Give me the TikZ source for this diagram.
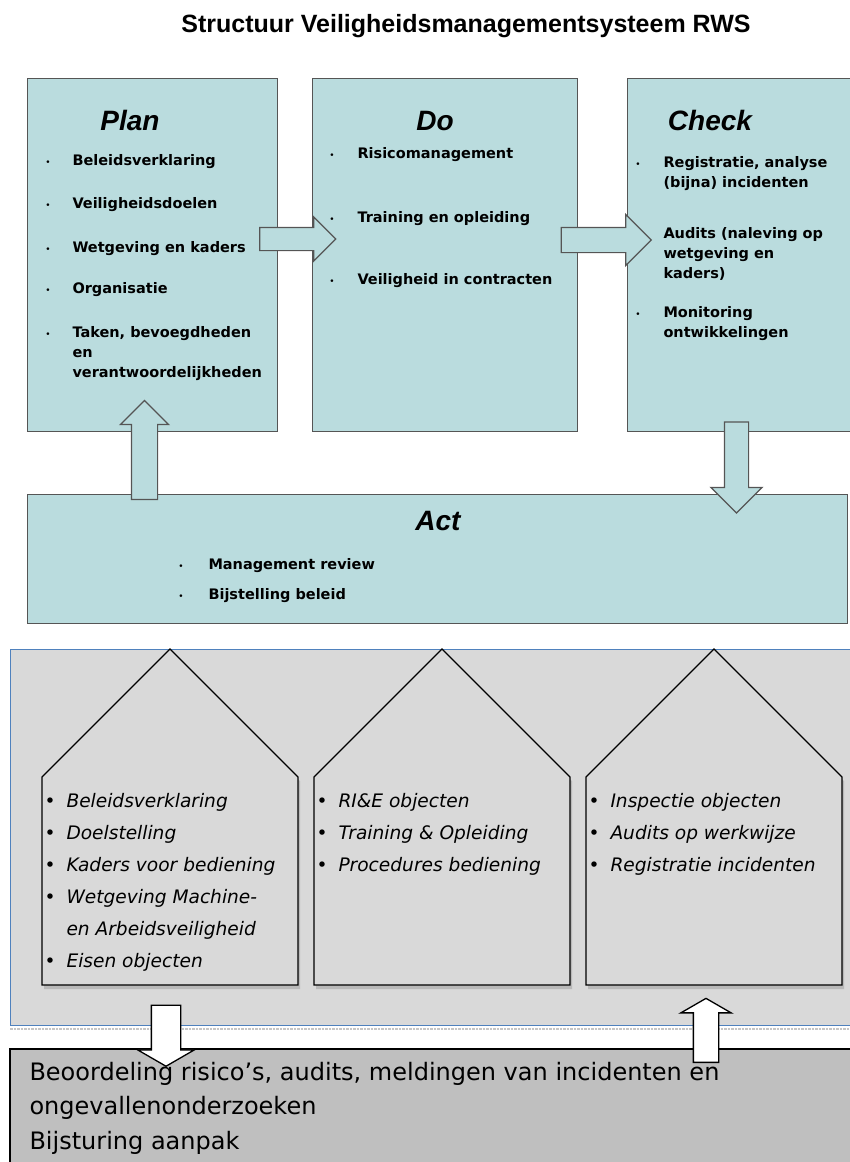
\documentclass[tikz,border=0pt]{standalone}
\usepackage{fontspec}
\setmainfont{DejaVu Sans}
\newfontfamily\arialfont{Liberation Sans}
\usetikzlibrary{shapes.arrows}

\definecolor{pdcateal}{RGB}{186,220,222}
\definecolor{boxline}{RGB}{85,85,85}
\definecolor{vmsgray}{RGB}{217,217,217}
\definecolor{basegray}{RGB}{191,191,191}
\definecolor{frameblue}{RGB}{79,129,189}

\tikzset{
every picture/.style={
line width=1pt
}}

\begin{document}
\begin{tikzpicture}[x=1pt, y=-1pt,
pdcabox/.style = {draw=boxline, fill=pdcateal, line width=1.4pt, inner sep=0pt, anchor=north west},
pdcatitle/.style = {anchor=base, inner sep=0pt, font=\arialfont\bfseries\itshape\fontsize{28}{30}\selectfont},
item/.style = {anchor=base west, align=left, inner sep=0pt, font=\bfseries\fontsize{14.5}{20}\selectfont},
itemdot/.style = {anchor=base, inner sep=0pt, font=\fontsize{9}{9}\selectfont},
bigarrow/.style 2 args = {single arrow, draw=boxline, fill=pdcateal, line width=1.2pt,
  inner xsep=0pt, inner ysep=#1, minimum width=0pt, single arrow head extend=#2},
whitearrow/.style 2 args = {single arrow, draw=black, fill=white, line width=1.3pt,
  inner xsep=0pt, inner ysep=#1, minimum width=0pt, single arrow head extend=#2,
  single arrow tip angle=120},
house/.style = {draw=black, fill=vmsgray, line width=1.2pt},
housetext/.style = {anchor=base west, inner sep=0pt, font=\itshape\fontsize{18.6}{32}\selectfont},
housedot/.style = {anchor=base, inner sep=0pt, font=\fontsize{18.6}{20}\selectfont}]

\useasboundingbox (0,0) rectangle (849,1162);

\node[anchor=base, font=\arialfont\bfseries\fontsize{25}{30}\selectfont] (titel) at (466,32)
{Structuur Veiligheidsmanagementsysteem RWS};

% PDCA boxes
\node[pdcabox, minimum width=250pt, minimum height=353pt] (plan) at (27,78) {};
\node[pdcabox, minimum width=265pt, minimum height=353pt] (do) at (312,78) {};
\node[pdcabox, minimum width=228pt, minimum height=353pt] (check) at (627,78) {};
\node[pdcabox, minimum width=820pt, minimum height=129pt] (act) at (27,494) {};

\node[pdcatitle] (plantitel) at (130,130) {Plan};
\node[pdcatitle] (dotitel) at (435,130) {Do};
\node[pdcatitle] (checktitel) at (710,130) {Check};
\node[pdcatitle] (acttitel) at (438,530) {Act};

% y of the bullet / y of the last text line
\foreach \y/\yl/\txt [count=\i] in {165/165/Beleidsverklaring, 208/208/Veiligheidsdoelen,
  252/252/Wetgeving en kaders, 293/293/Organisatie,
  337/377/{Taken, bevoegdheden\\en\\verantwoordelijkheden}}
{
\node[itemdot] (plandot\i) at (48,\y) {•};
\node[item] (plan\i) at (72,\yl) {\txt};
}

\foreach \y/\txt [count=\i] in {158/Risicomanagement, 222/Training en opleiding,
  284/Veiligheid in contracten}
{
\node[itemdot] (dodot\i) at (332,\y) {•};
\node[item] (do\i) at (357,\y) {\txt};
}

\foreach \y/\yl/\txt [count=\i] in {167/187/{Registratie, analyse\\(bijna) incidenten},
  238/278/{Audits (naleving op\\wetgeving en\\kaders)}, 317/337/{Monitoring\\ontwikkelingen}}
{
\node[itemdot] (checkdot\i) at (638,\y) {•};
\node[item] (check\i) at (663,\yl) {\txt};
}

\foreach \y/\txt [count=\i] in {569/Management review, 599/Bijstelling beleid}
{
\node[itemdot] (actdot\i) at (181,\y) {•};
\node[item] (act\i) at (208,\y) {\txt};
}

\node[bigarrow={11pt}{10.5pt}, minimum height=76pt] (plando) at (292,239) {};
\node[bigarrow={12pt}{13pt}, minimum height=90pt] (docheck) at (600,240) {};
\node[bigarrow={11.5pt}{13.5pt}, minimum height=91pt, rotate=-90] (checkact) at (736.5,461.5) {};
\node[bigarrow={12.5pt}{11pt}, minimum height=99pt, rotate=90] (actplan) at (144.5,456.5) {};

% objecten: drie huisjes
\draw[draw=frameblue, fill=vmsgray] (10,649) rectangle (860,1025);
\draw[gray!45, densely dotted, line width=2.5pt] (10,1029) -- (849,1029);

\foreach \x in {42,314,586}
{
\fill[gray!55] (\x+2,781) -- (\x+130,653) -- (\x+258,781) -- (\x+258,989) -- (\x+2,989) -- cycle;
\draw[house] (\x,777) -- (\x+128,649) -- (\x+256,777) -- (\x+256,985) -- (\x,985) -- cycle;
}

\foreach \y/\txt [count=\i] in {807/Beleidsverklaring, 839/Doelstelling,
  871/Kaders voor bediening, 903/Wetgeving Machine-, 967/Eisen objecten}
{
\node[housedot] (linksdot\i) at (50,\y) {•};
\node[housetext] (links\i) at (66,\y) {\txt};
}
\node[housetext] (links6) at (66,935) {en Arbeidsveiligheid};

\foreach \y/\txt [count=\i] in {807/RI\&E objecten, 839/Training \& Opleiding,
  871/Procedures bediening}
{
\node[housedot] (middot\i) at (322,\y) {•};
\node[housetext] (mid\i) at (338,\y) {\txt};
}

\foreach \y/\txt [count=\i] in {807/Inspectie objecten, 839/Audits op werkwijze,
  871/Registratie incidenten}
{
\node[housedot] (rechtsdot\i) at (594,\y) {•};
\node[housetext] (rechts\i) at (610,\y) {\txt};
}

% beoordeling en bijsturing
\draw[draw=black, fill=basegray, line width=1.2pt] (10,1049) rectangle (860,1180);
\node[anchor=base west, align=left, inner sep=0pt, font=\fontsize{24}{34.5}\selectfont] (basis) at (29,1149)
{Beoordeling risico’s, audits, meldingen van incidenten en\\ongevallenonderzoeken\\Bijsturing aanpak};

\node[whitearrow={14pt}{13.5pt}, minimum height=61pt, rotate=-90] (omlaag) at (166,1031.5) {};
\node[whitearrow={12pt}{12.5pt}, minimum height=64pt, rotate=90] (omhoog) at (706,1034) {};

\end{tikzpicture}
\end{document}
